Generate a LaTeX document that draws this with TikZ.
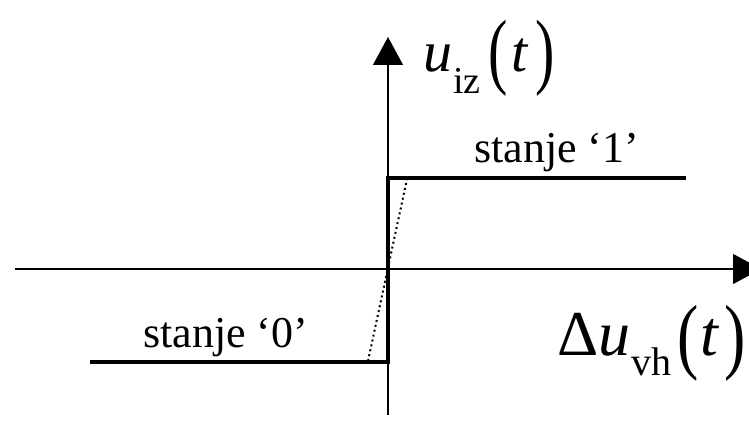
\documentclass[tikz,border=0pt]{standalone}
\usepackage{fontspec}
\setmainfont{Liberation Serif}
\usetikzlibrary{arrows.meta}
\newcommand{\tallparen}[3]{\raisebox{#2}{\scalebox{1}[#3]{#1}}}
\begin{document}
\begin{tikzpicture}[x=1pt,y=-1pt,
  axis/.style={line width=1.2pt,-{Triangle[length=28pt,width=30pt]}},
  curve/.style={line width=4pt},
  slope/.style={line width=2pt,dash pattern=on 2pt off 3pt},
  lbl/.style={anchor=base west,inner sep=0pt,font=\fontsize{44}{44}\selectfont}]
\useasboundingbox (0,0) rectangle (749,446);
\coordinate (xs) at (15,269);
\coordinate (xe) at (761,269);
\coordinate (ys) at (388,415);
\coordinate (ye) at (388,37);
\draw[axis] (xs) -- (xe);
\draw[axis] (ys) -- (ye);
\coordinate (a) at (90,362);
\coordinate (b) at (388,362);
\coordinate (c) at (388,178);
\coordinate (d) at (686,178);
\draw[curve] (a) -- (b) -- (c) -- (d);
\coordinate (p) at (368,361);
\coordinate (q) at (407,179);
\draw[slope] (p) -- (q);
\node[lbl] (s1) at (474,163) {stanje ‘1’};
\node[lbl] (s0) at (143,347) {stanje ‘0’};
\node[anchor=base west,inner sep=0pt,font=\fontsize{58}{58}\selectfont] (uiz) at (423,72)
  {\textit{u}\hspace{1pt}\raisebox{-22pt}{\fontsize{38}{38}\selectfont iz}\hspace{8pt}\tallparen{(}{-7pt}{1.45}\hspace{4pt}\textit{t}\hspace{6pt}\tallparen{)}{-7pt}{1.45}};
\node[anchor=base west,inner sep=0pt,font=\fontsize{64}{64}\selectfont] (duvh) at (557,355)
  {Δ\textit{u}\hspace{1pt}\raisebox{-20pt}{\fontsize{40}{40}\selectfont vh}\hspace{6pt}\tallparen{(}{-8pt}{1.31}\hspace{2pt}\textit{t}\hspace{5pt}\tallparen{)}{-8pt}{1.31}};
\end{tikzpicture}
\end{document}
